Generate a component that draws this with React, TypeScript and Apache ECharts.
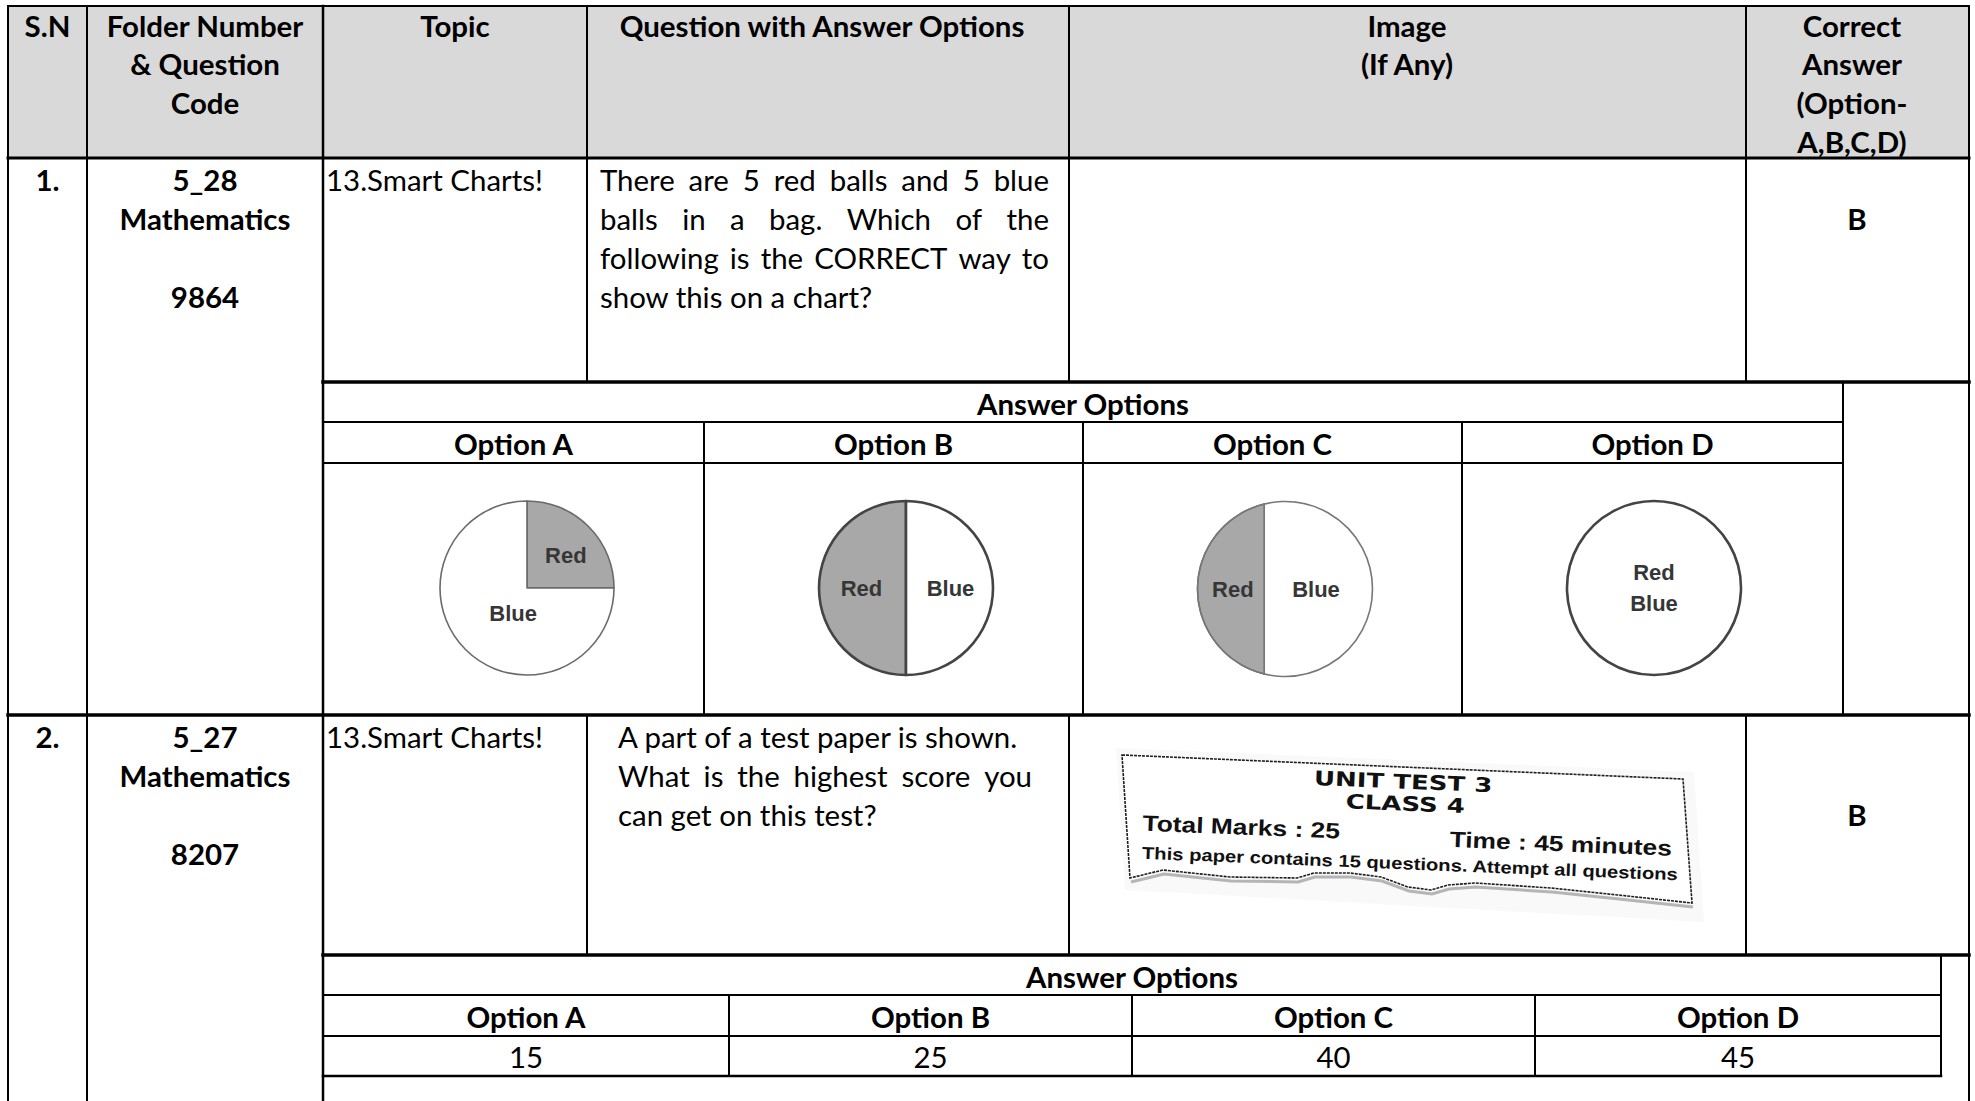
import React, { useEffect, useRef } from 'react';
import * as echarts from 'echarts';

// ---------- data ----------
const HEADER_SN = ['S.N'];
const HEADER_FOLDER = ['Folder Number', '& Question', 'Code'];
const HEADER_TOPIC = ['Topic'];
const HEADER_QUESTION = ['Question with Answer Options'];
const HEADER_IMAGE = ['Image', '(If Any)'];
const HEADER_CORRECT = ['Correct', 'Answer', '(Option-', 'A,B,C,D)'];

const ROW_SN = ['1.', '2.'];
const ROW_FOLDER = [
  ['5_28', 'Mathematics', '', '9864'],
  ['5_27', 'Mathematics', '', '8207'],
];
const ROW_TOPIC = ['13.Smart Charts!', '13.Smart Charts!'];
const Q1_LINES = [
  'There are 5 red balls and 5 blue',
  'balls in a bag. Which of the',
  'following is the CORRECT way to',
  'show this on a chart?',
];
const Q1_JUSTIFY = [true, true, true, false];
const Q2_LINES = [
  'A part of a test paper is shown.',
  'What is the highest score you',
  'can get on this test?',
];
const Q2_JUSTIFY = [false, true, false];
const CORRECT = ['B', 'B'];
const ANSWER_TITLE = 'Answer Options';
const OPTION_LABELS = ['Option A', 'Option B', 'Option C', 'Option D'];
const Q2_OPTION_VALUES = ['15', '25', '40', '45'];

const PIE_A = [
  { name: 'Red', value: 25 },
  { name: 'Blue', value: 75 },
];
const PIE_B = [
  { name: 'Red', value: 50 },
  { name: 'Blue', value: 50 },
];
const PIE_C = [
  { name: 'Red', value: 35 },
  { name: 'Blue', value: 65 },
];
const PIE_D = [{ name: 'Red\nBlue', value: 100 }];

const PAPER_LINES = [
  'UNIT TEST 3',
  'CLASS 4',
  'Total Marks : 25',
  'Time : 45 minutes',
  'This paper contains 15 questions. Attempt all questions',
];

// ---------- layout ----------
const W = 1975;
const H = 1101;
const FONT = 'Lato';
const GRAY = '#a8a8a8';
const PIE_TEXT = '#363636';
const PIE_FONT = "'Liberation Sans', sans-serif";
const PIE_FONT_SIZE = 22;

const X = { l: 8, c1: 87, c2: 323, c3: 587, c4: 1069, c5: 1746, r: 1969 };
const Y = { top: 6, head: 158, box1: 382, r1: 715, box2: 955, bottom: 1101 };

let measureCtx: CanvasRenderingContext2D | null = null;
function textWidth(text: string, size: number, weight: string, family = FONT) {
  if (!measureCtx) measureCtx = document.createElement('canvas').getContext('2d');
  if (!measureCtx) return text.length * size * 0.5;
  measureCtx.font = `${weight} ${size}px ${family}`;
  return measureCtx.measureText(text).width;
}
function fitSize(text: string, target: number, weight: string, fallback: number) {
  const w = textWidth(text, 100, weight);
  if (!w || !isFinite(w)) return fallback;
  return Math.min(40, Math.max(18, (100 * target) / w));
}

function txt(text: string, x: number, y: number, o: any = {}) {
  const align = o.align || 'center';
  const el: any = {
    type: 'text',
    x,
    y,
    z: 50,
    silent: true,
    style: {
      text,
      fill: o.color || '#000',
      fontSize: o.size,
      fontWeight: o.weight || 'normal',
      fontFamily: o.family || FONT,
      textAlign: align,
      textVerticalAlign: 'middle',
      align,
      verticalAlign: 'middle',
    },
  };
  if (o.scaleX) el.scaleX = o.scaleX;
  return el;
}

function ln(x1: number, y1: number, x2: number, y2: number, w = 2) {
  return {
    type: 'line',
    z: 60,
    silent: true,
    shape: { x1, y1, x2, y2 },
    style: { stroke: '#000', lineWidth: w, lineCap: 'square' },
  };
}

function paragraph(lines: string[], justify: boolean[], x0: number, x1: number, y0: number, step: number, size: number) {
  const out: any[] = [];
  lines.forEach((line, i) => {
    const y = y0 + i * step;
    if (!justify[i]) {
      out.push(txt(line, x0, y, { size, align: 'left' }));
      return;
    }
    const words = line.split(' ');
    const widths = words.map((w) => textWidth(w, size, 'normal'));
    const total = widths.reduce((a, b) => a + b, 0);
    const gap = words.length > 1 ? (x1 - x0 - total) / (words.length - 1) : 0;
    let x = x0;
    words.forEach((w, k) => {
      out.push(txt(w, x, y, { size, align: 'left' }));
      x += widths[k] + gap;
    });
  });
  return out;
}

function segmentOffset(share: number) {
  // distance of the chord from the centre (fraction of radius) for a segment with this area share
  let lo = -1;
  let hi = 1;
  for (let i = 0; i < 60; i++) {
    const d = (lo + hi) / 2;
    const th = 2 * Math.acos(d);
    const f = (th - Math.sin(th)) / (2 * Math.PI);
    if (f > share) lo = d;
    else hi = d;
  }
  return (lo + hi) / 2;
}

function buildOption() {
  const reg = fitSize('show this on a chart?', 273, 'normal', 28);
  const bold = fitSize('Question with Answer Options', 407, 'bold', 28);
  const step = 39;
  const g: any[] = [];

  // header background
  g.push({
    type: 'rect',
    z: 1,
    silent: true,
    shape: { x: X.l, y: Y.top, width: X.r - X.l, height: Y.head - Y.top },
    style: { fill: '#d9d9d9' },
  });

  // header texts
  const hy = 25.3;
  const hs = 38.6;
  const hb = { size: bold, weight: 'bold' };
  HEADER_SN.forEach((t, i) => g.push(txt(t, 47.5, hy + i * hs, hb)));
  HEADER_FOLDER.forEach((t, i) => g.push(txt(t, 205, hy + i * hs, hb)));
  HEADER_TOPIC.forEach((t, i) => g.push(txt(t, 455, hy + i * hs, hb)));
  HEADER_QUESTION.forEach((t, i) => g.push(txt(t, 822, hy + i * hs, hb)));
  HEADER_IMAGE.forEach((t, i) => g.push(txt(t, 1407, hy + i * hs, hb)));
  HEADER_CORRECT.forEach((t, i) => g.push(txt(t, 1852, hy + i * hs, hb)));

  // rows
  const rowY = [179, 736];
  rowY.forEach((ry, r) => {
    g.push(txt(ROW_SN[r], 47.5, ry, hb));
    ROW_FOLDER[r].forEach((t, i) => {
      if (t) g.push(txt(t, 205, ry + i * step, hb));
    });
    g.push(txt(ROW_TOPIC[r], 326, ry, { size: reg, align: 'left' }));
  });
  g.push(...paragraph(Q1_LINES, Q1_JUSTIFY, 600, 1049, 179, step, reg));
  g.push(...paragraph(Q2_LINES, Q2_JUSTIFY, 618, 1032, 736, step, reg));
  g.push(txt(CORRECT[0], 1857, 218, hb));
  g.push(txt(CORRECT[1], 1857, 814, hb));

  // answer box 1
  const b1 = [323, 704, 1083, 1462, 1843];
  g.push(txt(ANSWER_TITLE, (b1[0] + b1[4]) / 2, 403, hb));
  OPTION_LABELS.forEach((t, i) => g.push(txt(t, (b1[i] + b1[i + 1]) / 2, 443, hb)));
  // answer box 2
  const b2 = [323, 729, 1132, 1535, 1941];
  g.push(txt(ANSWER_TITLE, (b2[0] + b2[4]) / 2, 976, hb));
  OPTION_LABELS.forEach((t, i) => g.push(txt(t, (b2[i] + b2[i + 1]) / 2, 1016, hb)));
  Q2_OPTION_VALUES.forEach((t, i) => g.push(txt(t, (b2[i] + b2[i + 1]) / 2, 1056, { size: reg })));

  // grid lines
  g.push(ln(X.l, Y.top, X.r, Y.top, 2));
  g.push(ln(X.l, Y.head, X.r, Y.head, 3));
  g.push(ln(X.c2, Y.box1, X.r, Y.box1, 3.5));
  g.push(ln(b1[0], 422, b1[4], 422, 2));
  g.push(ln(b1[0], 463, b1[4], 463, 2));
  g.push(ln(X.l, Y.r1, X.r, Y.r1, 3.5));
  g.push(ln(X.c2, Y.box2, X.r, Y.box2, 3.5));
  g.push(ln(b2[0], 995, b2[4], 995, 2));
  g.push(ln(b2[0], 1036, b2[4], 1036, 2));
  g.push(ln(b2[0], 1076, b2[4], 1076, 2.5));

  g.push(ln(X.l, Y.top, X.l, Y.bottom, 2));
  g.push(ln(X.c1, Y.top, X.c1, Y.bottom, 2));
  g.push(ln(X.c2, Y.top, X.c2, Y.bottom, 2.5));
  g.push(ln(X.r, Y.top, X.r, Y.bottom, 2));
  [X.c3, X.c4, X.c5].forEach((x) => {
    g.push(ln(x, Y.top, x, Y.box1, 2));
    g.push(ln(x, Y.r1, x, Y.box2, 2));
  });
  [b1[1], b1[2], b1[3]].forEach((x) => g.push(ln(x, 422, x, Y.r1, 2)));
  g.push(ln(b1[4], Y.box1, b1[4], Y.r1, 2));
  [b2[1], b2[2], b2[3]].forEach((x) => g.push(ln(x, 995, x, 1076, 2)));
  g.push(ln(b2[4], Y.box2, b2[4], 1076, 2));

  // test paper picture
  const bottomEdge = [
    [1692, 903], [1618, 895], [1551, 888], [1506, 885], [1475, 883], [1448, 885],
    [1431, 890], [1408, 887], [1381, 877], [1350, 873], [1314, 873], [1297, 878],
    [1230, 877], [1163, 870], [1130, 878],
  ];
  g.push({
    type: 'polygon',
    z: 9,
    silent: true,
    shape: { points: [[1116, 748], [1694, 772], [1704, 922], [1125, 890]] },
    style: { fill: '#f9f9f9', stroke: null },
  });
  g.push({
    type: 'polyline',
    z: 10,
    silent: true,
    shape: { points: bottomEdge.map(([x, y]) => [x + 1, y + 4]) },
    style: { stroke: '#b5b5b5', lineWidth: 3, fill: null },
  });
  g.push({
    type: 'polygon',
    z: 11,
    silent: true,
    shape: { points: [[1122, 755], [1683, 779], ...bottomEdge] },
    style: { fill: '#fff', stroke: '#1e1e1e', lineWidth: 1.6, lineDash: [3, 1] },
  });
  const pf = 'Liberation Sans';
  const pc = '#111';
  g.push({
    type: 'group',
    x: 1122,
    y: 755,
    rotation: -0.04,
    z: 12,
    silent: true,
    children: [
      txt(PAPER_LINES[0], 282, 15, { size: 20, weight: 'bold', family: 'DejaVu Sans', color: pc, scaleX: 1.3 }),
      txt(PAPER_LINES[1], 285, 37, { size: 20, weight: 'bold', family: 'DejaVu Sans', color: pc, scaleX: 1.3 }),
      txt(PAPER_LINES[2], 122, 67, { size: 22, weight: 'bold', family: pf, color: pc, scaleX: 1.2 }),
      txt(PAPER_LINES[3], 442, 71, { size: 22, weight: 'bold', family: pf, color: pc, scaleX: 1.2 }),
      txt(PAPER_LINES[4], 292, 97, { size: 17, weight: 'bold', family: pf, color: pc, scaleX: 1.19 }),
    ],
  });

  const pieLabel = {
    show: true,
    position: 'inside',
    formatter: '{b}',
    color: PIE_TEXT,
    fontFamily: PIE_FONT,
    fontWeight: 'bold',
    fontSize: PIE_FONT_SIZE,
  };
  const pieBase = {
    type: 'pie',
    radius: 87,
    silent: true,
    animation: false,
    labelLine: { show: false },
    emphasis: { disabled: true },
    z: 20,
  };
  const colorFor = (name: string) => (name === 'Red' ? GRAY : '#fff');

  const cC = [1285, 589];
  const rC = 87.5;
  const redShareC = PIE_C[0].value / (PIE_C[0].value + PIE_C[1].value);

  const series: any[] = [
    {
      ...pieBase,
      center: [527, 588],
      startAngle: 90,
      clockwise: true,
      label: pieLabel,
      data: PIE_A.map((d) => ({
        ...d,
        itemStyle: { color: colorFor(d.name), borderColor: '#6a6a6a', borderWidth: 1.6 },
        label: d.name === 'Red' ? { offset: [6, 0] } : { offset: [19, -7] },
      })),
    },
    {
      ...pieBase,
      center: [906, 588],
      startAngle: 90,
      clockwise: false,
      label: pieLabel,
      data: PIE_B.map((d) => ({
        ...d,
        itemStyle: { color: colorFor(d.name), borderColor: '#444', borderWidth: 2.6 },
        label: d.name === 'Red' ? { offset: [2, 0] } : { offset: [-2, 0] },
      })),
    },
    {
      type: 'custom',
      coordinateSystem: 'none',
      silent: true,
      z: 20,
      data: [redShareC],
      renderItem: (_p: any, api: any) => {
        const share = api.value(0);
        const d = segmentOffset(share) * rC;
        const a = Math.acos(d / rC);
        const pts: number[][] = [];
        for (let k = 0; k <= 48; k++) {
          const t = Math.PI - a + (2 * a * k) / 48;
          pts.push([cC[0] + rC * Math.cos(t), cC[1] - rC * Math.sin(t)]);
        }
        const chordX = cC[0] - d;
        const lab = (text: string, x: number) => ({
          type: 'text',
          style: {
            text,
            x,
            y: cC[1],
            fill: PIE_TEXT,
            fontFamily: PIE_FONT,
            fontWeight: 'bold',
            fontSize: PIE_FONT_SIZE,
            align: 'center',
            verticalAlign: 'middle',
          },
        });
        return {
          type: 'group',
          children: [
            { type: 'circle', shape: { cx: cC[0], cy: cC[1], r: rC }, style: { fill: '#fff', stroke: null } },
            { type: 'polygon', shape: { points: pts }, style: { fill: GRAY, stroke: '#666', lineWidth: 1.4 } },
            { type: 'circle', shape: { cx: cC[0], cy: cC[1], r: rC }, style: { fill: null, stroke: '#777', lineWidth: 1.6 } },
            lab(PIE_C[0].name, (cC[0] - rC + chordX) / 2 + 2),
            lab(PIE_C[1].name, 1316),
          ],
        };
      },
    },
    {
      ...pieBase,
      center: [1654, 588],
      startAngle: 90,
      label: { ...pieLabel, position: 'center', lineHeight: 31 },
      data: PIE_D.map((d) => ({
        ...d,
        itemStyle: { color: '#fff', borderColor: '#444', borderWidth: 2.6 },
      })),
    },
  ];

  return {
    animation: false,
    backgroundColor: '#fff',
    graphic: { elements: g },
    series,
  };
}

export default function App() {
  const ref = useRef<HTMLDivElement>(null);
  useEffect(() => {
    if (!ref.current) return;
    const chart = echarts.init(ref.current, undefined, { renderer: 'svg' });
    chart.setOption(buildOption() as any);
    return () => chart.dispose();
  }, []);
  return (
    <div
      ref={ref}
      style={{ position: 'fixed', left: 0, top: 0, width: W, height: H, background: '#fff' }}
    />
  );
}
